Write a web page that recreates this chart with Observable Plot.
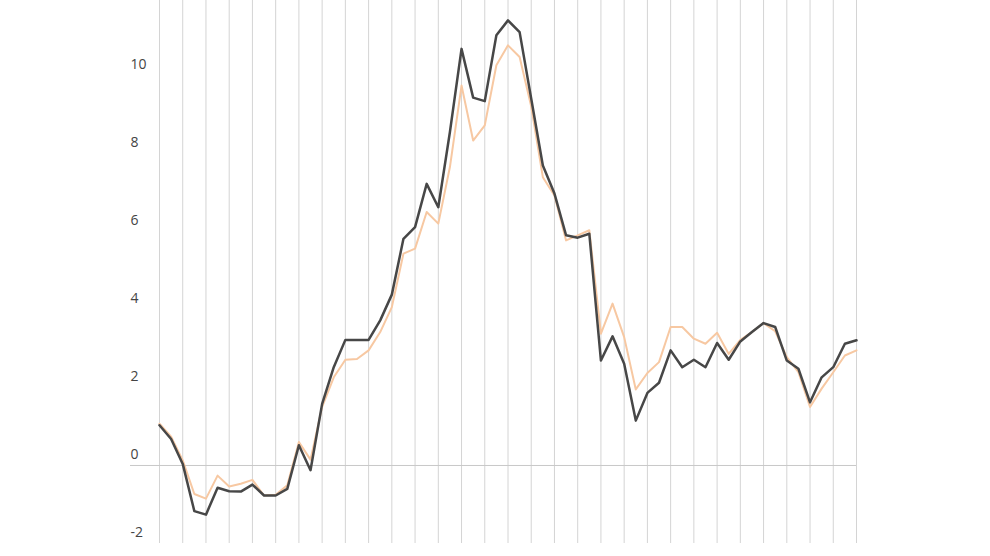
<!DOCTYPE html>
<html>
<head>
<meta charset="utf-8">
<script src="https://cdn.jsdelivr.net/npm/d3@7"></script>
<script src="https://cdn.jsdelivr.net/npm/@observablehq/plot@0.6"></script>
<style>
  html, body { margin: 0; padding: 0; background: #fff; }
  #chart svg { display: block; }
</style>
</head>
<body>
<div id="chart"></div>
<script>
const periods = d3.range(0, 61);
const darkSeries = [1.03, 0.68, 0.04, -1.17, -1.26, -0.57, -0.66, -0.67, -0.49, -0.77, -0.77, -0.6, 0.52, -0.12, 1.58, 2.52, 3.22, 3.22, 3.22, 3.72, 4.38, 5.81, 6.11, 7.22, 6.62, 8.55, 10.68, 9.43, 9.34, 11.03, 11.41, 11.11, 9.4, 7.69, 6.97, 5.90, 5.84, 5.94, 2.69, 3.31, 2.61, 1.15, 1.86, 2.12, 2.95, 2.52, 2.71, 2.52, 3.14, 2.71, 3.18, 3.42, 3.65, 3.55, 2.69, 2.48, 1.62, 2.26, 2.52, 3.12, 3.21];
const lightSeries = [1.07, 0.74, 0.13, -0.73, -0.85, -0.26, -0.54, -0.47, -0.37, -0.77, -0.75, -0.51, 0.6, 0.15, 1.5, 2.26, 2.71, 2.73, 2.95, 3.42, 4.06, 5.43, 5.56, 6.5, 6.2, 7.65, 9.74, 8.33, 8.72, 10.26, 10.77, 10.47, 9.2, 7.39, 6.92, 5.77, 5.9, 6.03, 3.38, 4.15, 3.29, 1.95, 2.37, 2.65, 3.55, 3.55, 3.25, 3.12, 3.40, 2.86, 3.22, 3.42, 3.65, 3.44, 2.78, 2.39, 1.5, 1.97, 2.39, 2.82, 2.95];
const yTicks = [-2, 0, 2, 4, 6, 8, 10];
const gridPeriods = periods.filter(p => p % 2 === 0);

const dark = periods.map((p, i) => ({p, v: darkSeries[i]}));
const light = periods.map((p, i) => ({p, v: lightSeries[i]}));

const chart = Plot.plot({
  width: 990,
  height: 556,
  marginLeft: 159,
  marginRight: 134,
  marginTop: 0,
  marginBottom: 13,
  style: {fontFamily: "'Open Sans', sans-serif", fontSize: "14px", color: "#444", background: "#fff"},
  x: {domain: [0, 60], axis: null},
  y: {domain: [-2, 11.92], axis: null},
  marks: [
    Plot.ruleX(gridPeriods, {stroke: "#d4d4d4", strokeWidth: 1}),
    Plot.ruleY([0], {stroke: "#c8c8c8", strokeWidth: 1, insetLeft: -29}),
    Plot.axisY({ticks: yTicks, tickSize: 0, tickPadding: 29, textAnchor: "start", label: null, dy: -11, fill: "#444", fontSize: 14, tickFormat: d => String(d)}),
    Plot.line(light, {x: "p", y: "v", stroke: "#f7c8a2", strokeWidth: 2}),
    Plot.line(dark, {x: "p", y: "v", stroke: "#474747", strokeWidth: 2.5})
  ]
});
document.getElementById("chart").appendChild(chart);
</script>
</body>
</html>
